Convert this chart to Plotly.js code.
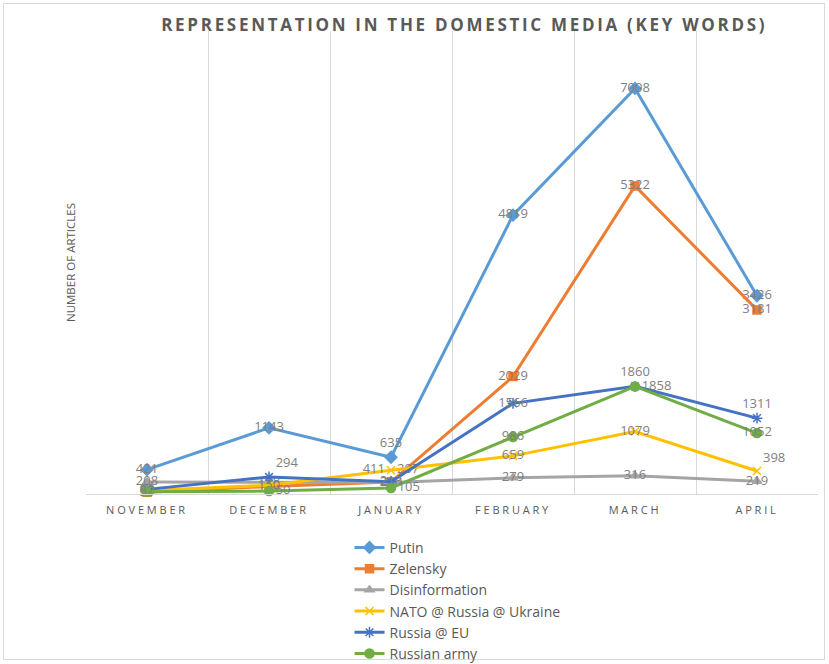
<!DOCTYPE html>
<html>
<head>
<meta charset="utf-8">
<script src="https://cdn.plot.ly/plotly-3.0.1.min.js"></script>
<style>
  html, body { margin: 0; padding: 0; background: #fff; }
  #wrap { position: absolute; left: 3px; top: 3px; width: 822px; height: 657px; border: 1px solid #d9d9d9; box-sizing: border-box; }
  #chart { position: absolute; left: 0; top: 0; width: 829px; height: 664px; }
  .gtitle { letter-spacing: 2.7px; }
  .xtick text { letter-spacing: 2.8px; }
</style>
</head>
<body>
<div id="wrap"></div>
<div id="chart"></div>
<script>
const months = ["NOVEMBER", "DECEMBER", "JANUARY", "FEBRUARY", "MARCH", "APRIL"];
const putin = [421, 1143, 635, 4819, 7008, 3426];
const zelensky = [30, 130, 207, 2029, 5322, 3181];
const disinformation = [208, 198, 200, 279, 316, 219];
const natoRussiaUkraine = [60, 150, 411, 659, 1079, 398];
const russiaEU = [80, 294, 213, 1566, 1860, 1311];
const russianArmy = [37, 50, 105, 986, 1858, 1052];

const labelFont = {family: "Open Sans, sans-serif", size: 13, color: "#7f7f7f"};

function series(name, y, color, symbol, msize, positions) {
  return {
    type: "scatter", mode: "lines+markers+text", name: name,
    x: months, y: y, text: y.map(String),
    textposition: positions, textfont: labelFont,
    line: {color: color, width: 3},
    marker: {color: color, symbol: symbol, size: msize, line: {color: color, width: 1.5}},
    cliponaxis: false
  };
}

const C = "middle center";
const traces = [
  series("Putin", putin, "#5B9BD5", "diamond", 9, [C, C, "top center", C, C, C]),
  series("Zelensky", zelensky, "#ED7D31", "square", 8, [C, C, "top right", C, C, C]),
  series("Disinformation", disinformation, "#A5A5A5", "triangle-up", 8, [C, C, C, C, C, C]),
  series("NATO @ Russia @ Ukraine", natoRussiaUkraine, "#FFC000", "x-thin", 8, [C, C, "middle left", C, C, "top right"]),
  series("Russia @ EU", russiaEU, "#4472C4", "asterisk", 9, [C, "top right", C, C, "top center", "top center"]),
  series("Russian army", russianArmy, "#70AD47", "circle", 9, [C, "middle right", "middle right", C, "middle right", C])
];

const layout = {
  width: 829, height: 664,
  paper_bgcolor: "rgba(0,0,0,0)", plot_bgcolor: "rgba(0,0,0,0)",
  margin: {l: 86, r: 11, t: 31, b: 170},
  font: {family: "Open Sans, sans-serif", color: "#595959"},
  title: {
    text: "<b>REPRESENTATION IN THE DOMESTIC MEDIA (KEY WORDS)</b>",
    font: {family: "Open Sans, sans-serif", size: 17, color: "#595959"},
    x: 0.56, xanchor: "center", xref: "container",
    y: 0.962, yanchor: "middle", yref: "container"
  },
  xaxis: {
    type: "category", range: [-0.5, 5.5], tickson: "boundaries",
    showgrid: true, gridcolor: "#d9d9d9", gridwidth: 1,
    showline: true, linecolor: "#d9d9d9", linewidth: 1,
    ticks: "", tickfont: {size: 11, color: "#595959"}, ticklabelstandoff: 6,
    zeroline: false, fixedrange: true, automargin: false
  },
  yaxis: {
    range: [0, 8000], showgrid: false, showticklabels: false, zeroline: false, showline: false,
    ticks: "", automargin: false,
    title: {text: "NUMBER OF ARTICLES", font: {size: 11.5, color: "#595959"}, standoff: 6}
  },
  showlegend: true,
  legend: {
    orientation: "v", x: 0.36, xanchor: "left",
    yref: "container", y: 0.199, yanchor: "top",
    font: {size: 14, color: "#595959"}, bgcolor: "rgba(0,0,0,0)", tracegroupgap: 0
  }
};

Plotly.newPlot("chart", traces, layout, {displayModeBar: false, staticPlot: true});
</script>
</body>
</html>
